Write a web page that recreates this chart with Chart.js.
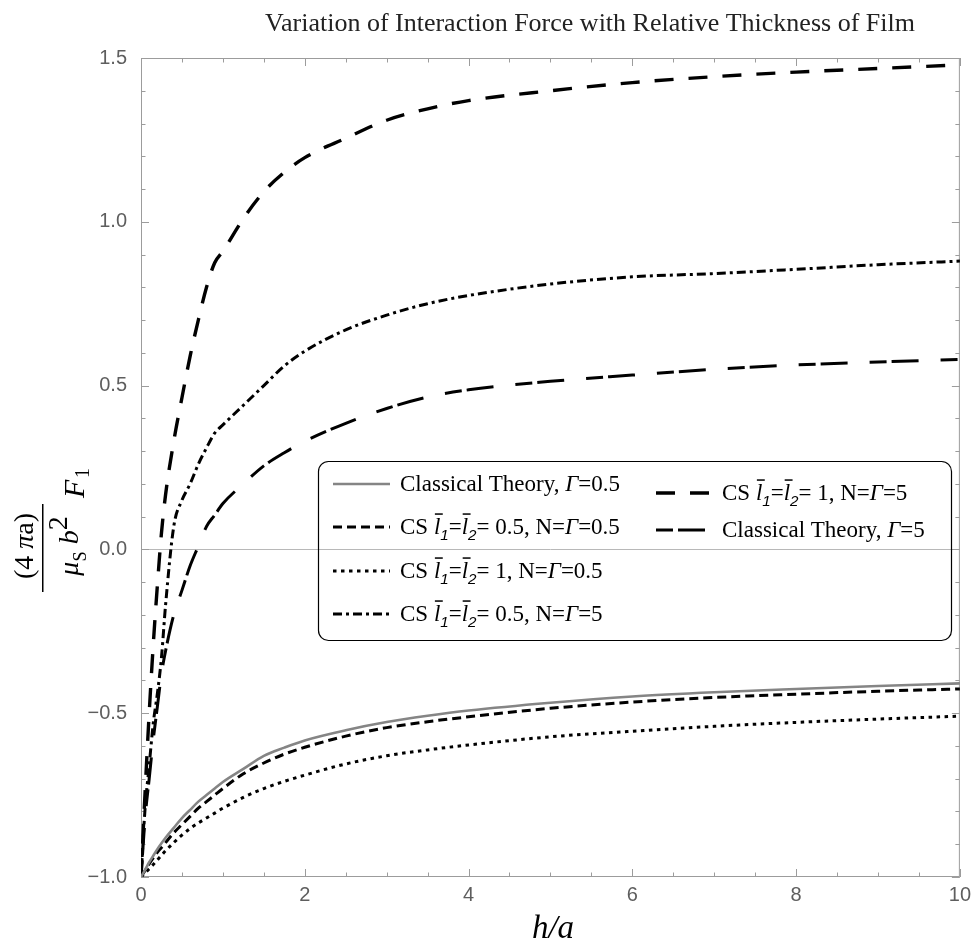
<!DOCTYPE html>
<html><head><meta charset="utf-8">
<script src="https://cdn.jsdelivr.net/npm/chart.js@4/dist/chart.umd.min.js"></script>
<style>html,body{margin:0;padding:0;background:#fff;}canvas{display:block}</style>
</head><body>
<canvas id="c" width="977" height="945"></canvas>
<script>
// ---- data ----
const hValues = [0,0.05,0.1,0.15,0.2,0.25,0.3,0.4,0.5,0.6,0.7,0.8,0.9,1,1.25,1.5,1.75,2,2.5,3,3.5,4,5,6,7,8,9,10];
const classicalG05 = [-1,-0.978,-0.955,-0.935,-0.915,-0.897,-0.88,-0.85,-0.82,-0.795,-0.77,-0.75,-0.73,-0.71,-0.67,-0.63,-0.605,-0.583,-0.552,-0.527,-0.508,-0.492,-0.468,-0.449,-0.436,-0.426,-0.417,-0.409];
const csL05G05 = [-1,-0.98,-0.96,-0.942,-0.925,-0.91,-0.895,-0.865,-0.84,-0.815,-0.79,-0.77,-0.75,-0.73,-0.685,-0.652,-0.625,-0.604,-0.57,-0.544,-0.526,-0.511,-0.485,-0.466,-0.452,-0.442,-0.433,-0.426];
const csL1G05 = [-1,-0.988,-0.975,-0.962,-0.948,-0.934,-0.92,-0.895,-0.872,-0.852,-0.835,-0.82,-0.805,-0.79,-0.757,-0.73,-0.708,-0.689,-0.655,-0.63,-0.612,-0.597,-0.572,-0.555,-0.54,-0.528,-0.518,-0.509];
const csL05G5 = [-1,-0.79,-0.66,-0.53,-0.44,-0.33,-0.17,0.07,0.15,0.2,0.26,0.31,0.355,0.38,0.44,0.5,0.56,0.605,0.67,0.715,0.75,0.775,0.81,0.832,0.842,0.855,0.869,0.88];
const csL1G5 = [-1,-0.74,-0.5,-0.29,-0.11,0.05,0.167,0.33,0.463,0.59,0.7,0.8,0.875,0.91,1.01,1.092,1.151,1.196,1.255,1.31,1.345,1.37,1.4,1.425,1.443,1.457,1.468,1.479];
const classicalG5 = [-1,-0.82,-0.7,-0.58,-0.48,-0.38,-0.31,-0.2,-0.125,-0.05,0.01,0.07,0.105,0.14,0.2,0.255,0.295,0.33,0.385,0.43,0.465,0.487,0.513,0.532,0.55,0.563,0.572,0.58];
const xTickLabels = ['0','2','4','6','8','10'];
const yTickLabels = ['\u22121.0','\u22120.5','0.0','0.5','1.0','1.5'];
const seriesNames = ['Classical Theory, \u0393=0.5','CS l\u0305\u2081=l\u0305\u2082= 0.5, N=\u0393=0.5','CS l\u0305\u2081=l\u0305\u2082= 1, N=\u0393=0.5','CS l\u0305\u2081=l\u0305\u2082= 0.5, N=\u0393=5','CS l\u0305\u2081=l\u0305\u2082= 1, N=\u0393=5','Classical Theory, \u0393=5'];
const titleText = 'Variation of Interaction Force with Relative Thickness of Film';

const pts = arr => hValues.map((h,i)=>({x:h,y:arr[i]}));
const styles = [
  {c:'#858585', w:2.6, d:[]},
  {c:'#000', w:3, d:[9,5]},
  {c:'#000', w:3, d:[3.5,4.5]},
  {c:'#000', w:3, d:[9,4,3,4]},
  {c:'#000', w:3.4, d:[19,15]},
  {c:'#000', w:3, d:[17,5,27,22]}
];
const seriesData = [classicalG05, csL05G05, csL1G05, csL05G5, csL1G5, classicalG5];
const datasets = seriesData.map((arr,i)=>({
  label: seriesNames[i], data: pts(arr), borderColor: styles[i].c, borderWidth: styles[i].w,
  borderDash: styles[i].d, pointRadius: 0, fill: false, cubicInterpolationMode: 'monotone'
}));

const SERIF = '"Liberation Serif","Times New Roman",serif';

function drawRich(ctx, x, y, parts, size, align) {
  const segs = parts.map(p => {
    const fs = p.sub ? size*0.66 : size;
    const font = (p.it ? 'italic ' : '') + fs + 'px ' + (p.sans ? '"Liberation Sans"' : SERIF);
    ctx.font = font;
    return {p, font, w: ctx.measureText(p.t).width};
  });
  const total = segs.reduce((s,g)=>s+g.w,0);
  let cx = align==='center' ? x - total/2 : x;
  ctx.textAlign = 'left';
  for (const g of segs) {
    ctx.font = g.font;
    const dy = g.p.sub ? size*0.28 : (g.p.sup ? -size*0.4 : 0);
    ctx.fillText(g.p.t, cx, y + dy);
    if (g.p.over) ctx.fillRect(cx + 1, y - size*0.9, g.w + 1.5, 1.5);
    cx += g.w;
  }
}
const ctParts = g => [{t:'Classical Theory, '},{t:'\u0393',it:1},{t:'='+g}];
const csParts = (l,n) => [{t:'CS '},{t:'l',it:1,over:1},{t:'1',it:1,sub:1,sans:1},{t:'='},{t:'l',it:1,over:1},{t:'2',it:1,sub:1,sans:1},{t:'= '+l+', N='},{t:'\u0393',it:1},{t:'='+n}];
const legendParts = [ctParts('0.5'), csParts('0.5','0.5'), csParts('1','0.5'), csParts('0.5','5'), csParts('1','5'), ctParts('5')];
const legendPos = [[333,484],[333,527],[333,571],[333,614],[656,493],[656,530]];

const framePlugin = {
  id:'frame',
  beforeDatasetsDraw(chart){
    const {ctx, chartArea:a, scales:{x,y}} = chart;
    ctx.save();
    ctx.lineWidth = 1;
    ctx.strokeStyle = '#b8b8b8';
    const y0 = Math.round(y.getPixelForValue(0))+0.5;
    ctx.beginPath(); ctx.moveTo(a.left,y0); ctx.lineTo(a.right,y0); ctx.stroke();
    ctx.strokeStyle = '#9c9c9c';
    ctx.strokeRect(a.left+0.5, a.top+0.5, a.right-a.left-1, a.bottom-a.top-1);
    ctx.beginPath();
    for (let i=0;i<=20;i++){
      const px = Math.round(x.getPixelForValue(i*0.5))+0.5, L = (i%4===0)?8:4.5;
      ctx.moveTo(px,a.bottom); ctx.lineTo(px,a.bottom-L);
      ctx.moveTo(px,a.top); ctx.lineTo(px,a.top+L);
    }
    for (let i=0;i<=25;i++){
      const py = Math.round(y.getPixelForValue(-1+i*0.1))+0.5, L = (i%5===0)?8:4.5;
      ctx.moveTo(a.left,py); ctx.lineTo(a.left+L,py);
      ctx.moveTo(a.right,py); ctx.lineTo(a.right-L,py);
    }
    ctx.stroke();
    ctx.restore();
  }
};

const textPlugin = {
  id:'texts',
  afterDraw(chart){
    const ctx = chart.ctx;
    ctx.save();
    ctx.fillStyle = '#222';
    ctx.textBaseline = 'alphabetic';
    ctx.textAlign = 'center';
    ctx.font = '26px ' + SERIF;
    ctx.fillText(titleText, 590, 31);
    // x label
    ctx.fillStyle = '#000';
    ctx.font = 'italic 33px ' + SERIF;
    ctx.fillText('h/a', 553, 938);
    // y label (rotated fraction)
    ctx.save();
    ctx.translate(43, 548);
    ctx.rotate(-Math.PI/2);
    drawRich(ctx, 2, -10, [{t:'(4 '},{t:'\u03c0',it:1},{t:'a)'}], 28, 'center');
    ctx.fillRect(-44, -1, 88, 1.5);
    drawRich(ctx, 2, 35, [{t:'\u03bc',it:1},{t:'S',sub:1},{t:' b',it:1},{t:'2',sup:1,sub:0}], 28, 'center');
    ctx.font = 'italic 30px ' + SERIF; ctx.textAlign='left';
    ctx.fillText('F', 50, 41);
    ctx.font = '20px ' + SERIF;
    ctx.fillText('1', 70, 46);
    ctx.restore();
    // legend
    ctx.strokeStyle = '#000'; ctx.lineWidth = 1.2;
    ctx.beginPath(); ctx.roundRect(318.5, 461.5, 633, 179, 10); ctx.stroke();
    legendPos.forEach(([lx,ly],i)=>{
      const st = styles[i];
      ctx.save();
      ctx.strokeStyle = st.c; ctx.lineWidth = st.w; ctx.setLineDash(st.d);
      ctx.beginPath(); ctx.moveTo(lx, ly); ctx.lineTo(lx + (i>=4?53:57), ly); ctx.stroke();
      ctx.restore();
      ctx.fillStyle = '#000';
      drawRich(ctx, lx + (i>=4?66:67), ly + 7, legendParts[i], 23, 'left');
    });
    ctx.restore();
  }
};

new Chart(document.getElementById('c'), {
  type:'line',
  data:{datasets},
  options:{
    responsive:false, animation:false, events:[],
    layout:{padding:{top:58,right:14,left:0,bottom:0}},
    plugins:{legend:{display:false}, tooltip:{enabled:false}},
    scales:{
      x:{type:'linear', min:0, max:10,
        grid:{display:false, drawTicks:false}, border:{display:false},
        ticks:{stepSize:2, autoSkip:false, maxRotation:0, padding:6, color:'#5e5e5e',
          font:{family:'"Liberation Sans",Arial,sans-serif', size:20},
          callback:(v)=>xTickLabels[Math.round(v/2)]},
        afterFit:(s)=>{s.height=68;}
      },
      y:{type:'linear', min:-1, max:1.5,
        grid:{display:false, drawTicks:false}, border:{display:false},
        ticks:{stepSize:0.5, autoSkip:false, padding:14, color:'#5e5e5e',
          font:{family:'"Liberation Sans",Arial,sans-serif', size:20},
          callback:(v)=>yTickLabels[Math.round((v+1)/0.5)]},
        afterFit:(s)=>{s.width=141;}
      }
    }
  },
  plugins:[framePlugin, textPlugin]
});
</script>
</body></html>
